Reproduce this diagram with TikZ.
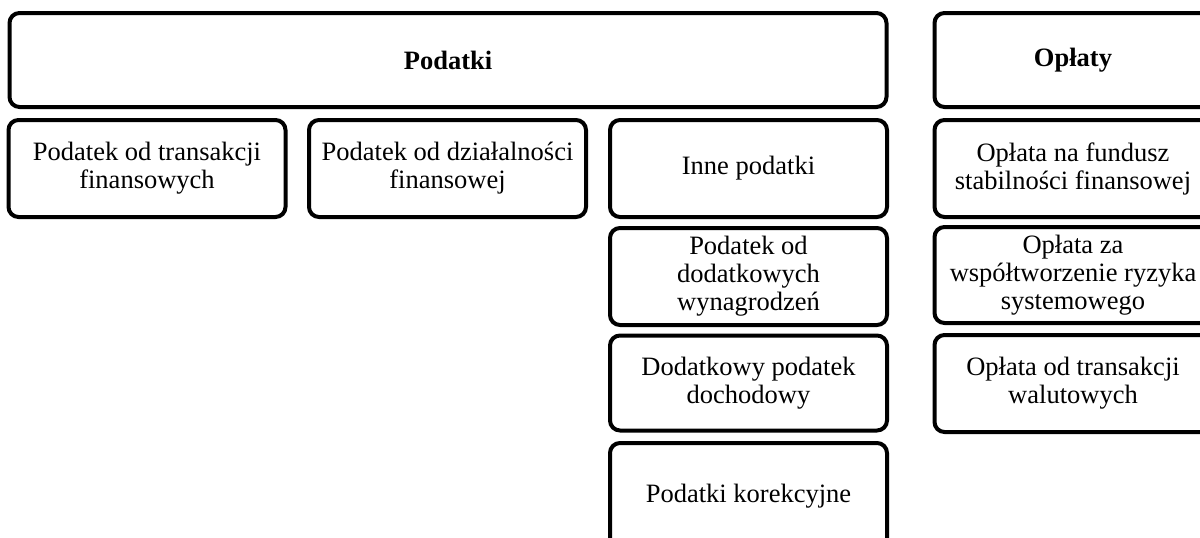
\documentclass[tikz,border=0pt]{standalone}
\usepackage{fontspec}
\setmainfont{Liberation Serif}
\begin{document}
\begin{tikzpicture}[x=1pt,y=-1pt,
  bx/.style={draw=black, line width=4pt, rounded corners=10pt, fill=white,
    inner sep=0pt, align=center, font=\fontsize{26.5}{28}\selectfont},
  wide/.style={bx, minimum width=877pt},
  col/.style={bx, minimum width=277pt}]
\useasboundingbox (0,0) rectangle (1200,538);
\clip (0,0) rectangle (1200,538);
\node[wide, minimum height=94pt, font=\fontsize{26.5}{28}\selectfont\bfseries] (podatki) at (448,60) {Podatki};
\node[col, minimum height=97pt] (t1) at (147,168.5) {Podatek od transakcji\\finansowych};
\node[col, minimum height=97pt] (t2) at (447.5,168.5) {Podatek od działalności\\finansowej};
\node[col, minimum height=97pt] (inne) at (748.5,168.5) {Inne podatki};
\node[col, minimum height=97pt] (dod) at (748.5,276.5) {Podatek od\\dodatkowych\\wynagrodzeń};
\node[col, minimum height=95pt] (doch) at (748.5,383) {Dodatkowy podatek\\dochodowy};
\node[col, minimum height=106pt] (kor) at (748.5,496) {Podatki korekcyjne};
\node[col, minimum height=94pt, font=\fontsize{26.5}{28}\selectfont\bfseries] (oplaty) at (1073,60) {Opłaty};
\node[col, minimum height=97pt] (o1) at (1073,168.5) {Opłata na fundusz\\stabilności finansowej};
\node[col, minimum height=96pt] (o2) at (1073,275) {Opłata za\\współtworzenie ryzyka\\systemowego};
\node[col, minimum height=97pt] (o3) at (1073,383.5) {Opłata od transakcji\\walutowych};
\end{tikzpicture}
\end{document}
